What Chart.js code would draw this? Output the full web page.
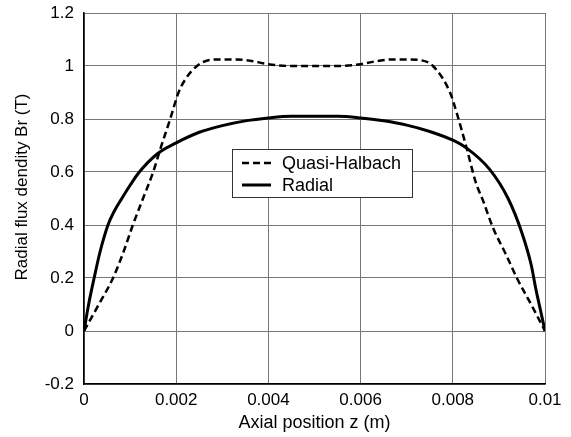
<!DOCTYPE html>
<html>
<head>
<meta charset="utf-8">
<script src="https://cdn.jsdelivr.net/npm/chart.js@4.4.1/dist/chart.umd.min.js"></script>
<style>
  html, body { margin: 0; padding: 0; background: #fff; }
  #wrap { width: 571px; height: 437px; }
</style>
</head>
<body>
<div id="wrap"><canvas id="chart" width="571" height="437"></canvas></div>
<script>
// Quasi-Halbach curve (dashed)
const halbachZ = [0, 0.00032, 0.00063, 0.00086, 0.00106, 0.00128, 0.0015, 0.00168, 0.00187, 0.00205, 0.0022, 0.00245,
	0.0027, 0.003, 0.0033, 0.0036, 0.004, 0.0045, 0.005, 0.0055, 0.006, 0.0064, 0.0067, 0.007, 0.0073,
	0.00757, 0.00794, 0.00809, 0.0083, 0.0085, 0.00866, 0.00887, 0.00915, 0.00939, 0.0097, 0.01];
const halbachBr = [0, 0.1, 0.2, 0.3, 0.4, 0.5, 0.6, 0.7, 0.8, 0.9, 0.95, 1.0,
	1.022, 1.025, 1.025, 1.02, 1.007, 1.0, 1.0, 1.0, 1.007, 1.02, 1.025, 1.025, 1.022,
	1.0, 0.9, 0.82, 0.69, 0.56, 0.49, 0.39, 0.29, 0.2, 0.1, 0];

// Radial curve (solid)
const radialZ = [0, 0.0001, 0.00022, 0.00035, 0.00052, 0.00065, 0.00082, 0.001, 0.0012, 0.0016, 0.002, 0.0025, 0.003, 0.0035,
	0.004, 0.0045, 0.005, 0.0055, 0.006, 0.0065, 0.007, 0.0075, 0.008, 0.0083, 0.0088, 0.0092,
	0.0095, 0.0097, 0.0098, 0.0099, 0.01];
const radialBr = [0, 0.1, 0.2, 0.3, 0.4, 0.45, 0.5, 0.55, 0.6, 0.67, 0.71, 0.75, 0.775, 0.793,
	0.804, 0.81, 0.81, 0.81, 0.804, 0.793, 0.777, 0.753, 0.72, 0.69, 0.61, 0.5,
	0.37, 0.25, 0.16, 0.08, 0];

const xTicks = [0, 0.002, 0.004, 0.006, 0.008, 0.01];
const yTicks = [-0.2, 0, 0.2, 0.4, 0.6, 0.8, 1, 1.2];

const seriesNames = ['Quasi-Halbach', 'Radial'];
const yTitle = 'Radial flux dendity Br (T)';

function toPoints(xs, ys) {
	let pts = [];
	for (let i = 0; i < xs.length; i++) {
		pts.push({ x: xs[i], y: ys[i] });
	}
	return pts;
}

const fontFamily = '"Liberation Sans", Arial, sans-serif';

// legend drawn inside the plot area, like the original figure
const insideLegend = {
	id: 'insideLegend',
	afterDatasetsDraw(chart) {
		const ctx = chart.ctx;
		const left = 232, top = 149, w = 180, h = 48;
		ctx.save();
		ctx.fillStyle = '#fff';
		ctx.fillRect(left, top, w, h);
		ctx.strokeStyle = '#333';
		ctx.lineWidth = 1;
		ctx.strokeRect(left + 0.5, top + 0.5, w, h);
		ctx.font = '18px ' + fontFamily;
		ctx.textBaseline = 'middle';
		chart.data.datasets.forEach((ds, i) => {
			const y = top + 14 + i * 22;
			ctx.beginPath();
			ctx.strokeStyle = ds.borderColor;
			ctx.lineWidth = ds.borderWidth;
			ctx.setLineDash(ds.borderDash || []);
			ctx.moveTo(left + 10, y);
			ctx.lineTo(left + 39, y);
			ctx.stroke();
			ctx.setLineDash([]);
			ctx.fillStyle = '#000';
			ctx.fillText(ds.label, left + 50, y + 1);
		});
		ctx.restore();
	}
};

// y title sits a bit above the axis middle in the original
const yAxisTitle = {
	id: 'yAxisTitle',
	afterDraw(chart) {
		const ctx = chart.ctx;
		ctx.save();
		ctx.translate(22, 187);
		ctx.rotate(-Math.PI / 2);
		ctx.font = '17px ' + fontFamily;
		ctx.fillStyle = '#000';
		ctx.textAlign = 'center';
		ctx.textBaseline = 'middle';
		ctx.fillText(yTitle, 0, 0);
		ctx.restore();
	}
};

const ctx = document.getElementById('chart');
new Chart(ctx, {
	type: 'scatter',
	data: {
		datasets: [{
			label: seriesNames[0],
			data: toPoints(halbachZ, halbachBr),
			showLine: true,
			borderColor: '#000',
			borderWidth: 2.5,
			borderDash: [7, 4],
			pointRadius: 0,
			cubicInterpolationMode: 'monotone',
		}, {
			label: seriesNames[1],
			data: toPoints(radialZ, radialBr),
			showLine: true,
			borderColor: '#000',
			borderWidth: 3,
			pointRadius: 0,
			cubicInterpolationMode: 'monotone',
		}]
	},
	options: {
		responsive: false,
		animation: false,
		layout: { padding: { left: 0, right: 26, top: 13, bottom: 0 } },
		plugins: {
			legend: { display: false },
			tooltip: { enabled: false },
		},
		scales: {
			x: {
				type: 'linear',
				min: 0,
				max: 0.01,
				afterBuildTicks: (axis) => { axis.ticks = xTicks.map(v => ({ value: v })); },
				afterFit: (axis) => {
					axis.height = 53;
					axis.paddingLeft = 0;
					axis.paddingRight = 0;
				},
				ticks: {
					color: '#000',
					padding: 6,
					font: { family: fontFamily, size: 17 },
					callback: (v) => String(v),
				},
				grid: { color: '#777', lineWidth: 1, drawTicks: false },
				border: { color: '#000', width: 1.5 },
				title: {
					display: true,
					text: 'Axial position z (m)',
					color: '#000',
					font: { family: fontFamily, size: 18 },
					padding: { top: 0, bottom: 3 },
				},
			},
			y: {
				min: -0.2,
				max: 1.2,
				afterBuildTicks: (axis) => { axis.ticks = yTicks.map(v => ({ value: v })); },
				afterFit: (axis) => {
					axis.width = 84;
					axis.paddingTop = 0;
					axis.paddingBottom = 0;
				},
				ticks: {
					color: '#000',
					padding: 10,
					font: { family: fontFamily, size: 17 },
					callback: (v) => String(Math.round(v * 10) / 10),
				},
				grid: { color: '#777', lineWidth: 1, drawTicks: false },
				border: { color: '#000', width: 1.5 },
			}
		}
	},
	plugins: [insideLegend, yAxisTitle]
});
</script>
</body>
</html>
